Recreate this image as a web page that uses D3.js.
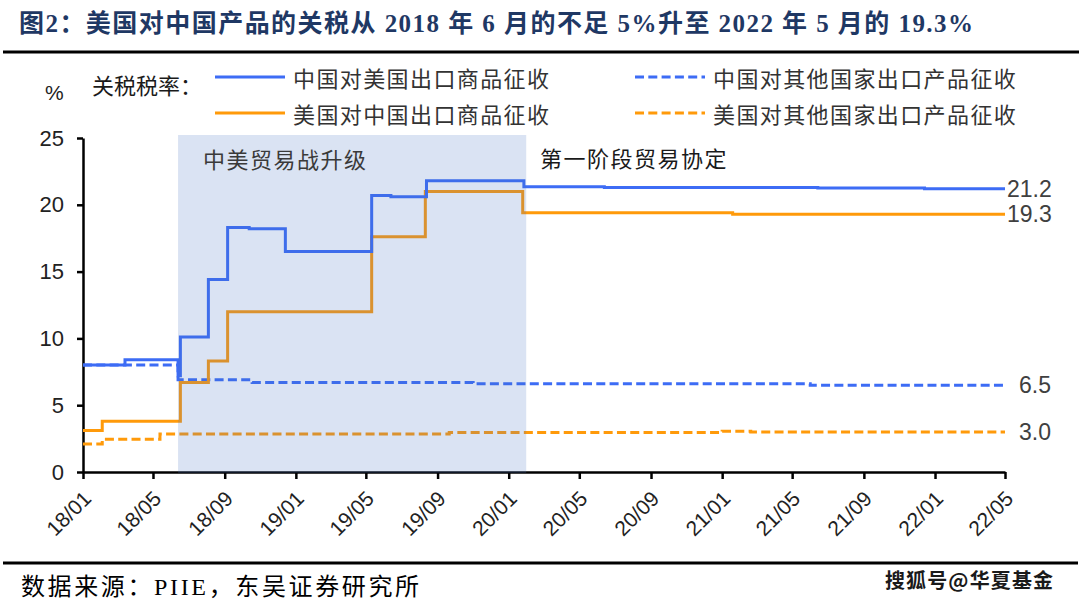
<!DOCTYPE html>
<html><head><meta charset="utf-8">
<script src="https://cdn.jsdelivr.net/npm/d3@7"></script>
<style>
html,body{margin:0;padding:0;background:#fff;}
svg{display:block;}
</style>
</head><body>
<svg id="chart" width="1080" height="606"></svg>
<script>
// ---------------- data ----------------
const titleText = "图2：美国对中国产品的关税从 2018 年 6 月的不足 5%升至 2022 年 5 月的 19.3%";
const sourceText = "数据来源：PIIE，东吴证券研究所";
const watermarkText = "搜狐号@华夏基金";
const legendTitle = "关税税率：";
const seriesNames = ["中国对美国出口商品征收", "美国对中国出口商品征收", "中国对其他国家出口产品征收", "美国对其他国家出口产品征收"];
const yTicks = [0, 5, 10, 15, 20, 25];
const xTickDates = ["2018-01-01","2018-05-01","2018-09-01","2019-01-01","2019-05-01","2019-09-01","2020-01-01","2020-05-01","2020-09-01","2021-01-01","2021-05-01","2021-09-01","2022-01-01","2022-05-01"];
const xTickLabels = ["18/01","18/05","18/09","19/01","19/05","19/09","20/01","20/05","20/09","21/01","21/05","21/09","22/01","22/05"];
const shadePeriod = ["2018-06-13", "2020-01-31"];
const shadeLabel = "中美贸易战升级";
const phaseOneLabel = "第一阶段贸易协定";

// China's tariffs on US exports (step series)
const chinaOnUS = [
  ["2018-01-01", 8.0], ["2018-03-14", 8.4], ["2018-06-13", 7.2], ["2018-06-17", 10.1],
  ["2018-08-04", 14.4], ["2018-09-06", 18.3], ["2018-10-13", 18.2], ["2018-12-14", 16.5],
  ["2019-05-11", 20.7], ["2019-06-13", 20.6], ["2019-08-13", 21.8], ["2020-01-27", 21.35],
  ["2020-06-13", 21.3], ["2021-06-14", 21.25], ["2021-12-14", 21.2], ["2022-05-01", 21.2]
];
// US tariffs on Chinese exports
const usOnChina = [
  ["2018-01-01", 3.1], ["2018-02-03", 3.8], ["2018-06-17", 6.7], ["2018-08-04", 8.3],
  ["2018-09-06", 12.0], ["2019-05-11", 17.6], ["2019-08-11", 21.0], ["2020-01-25", 19.4],
  ["2021-01-19", 19.3], ["2022-05-01", 19.3]
];
// China's tariffs on rest of world
const chinaOnOthers = [
  ["2018-01-01", 8.0], ["2018-06-13", 6.9], ["2018-10-18", 6.7], ["2019-11-01", 6.6],
  ["2021-06-01", 6.5], ["2022-05-01", 6.5]
];
// US tariffs on rest of world
const usOnOthers = [
  ["2018-01-01", 2.1], ["2018-02-03", 2.45], ["2018-05-13", 2.85], ["2019-09-21", 2.95],
  ["2021-01-01", 3.05], ["2021-02-19", 3.0], ["2022-05-01", 3.0]
];
const endLabels = ["21.2", "19.3", "6.5", "3.0"];

// ---------------- drawing ----------------
const svg = d3.select("#chart");
const parse = d3.timeParse("%Y-%m-%d");
const cnFont = "'Noto Sans CJK SC', 'Noto Sans', sans-serif";
const serifFont = "'Liberation Serif', 'Noto Sans CJK SC', serif";
const numFont = "Arial, 'Liberation Sans', sans-serif";

const x = d3.scaleTime().domain([parse(xTickDates[0]), parse(xTickDates[xTickDates.length - 1])]).range([83, 1005]);
const y = d3.scaleLinear().domain([0, 25]).range([472, 138]);

function fitText(sel, targetWidth, baseSize, maxSize) {
  sel.attr("font-size", baseSize);
  const w = sel.node().getComputedTextLength();
  const s = Math.min(maxSize, baseSize * targetWidth / w);
  sel.attr("font-size", s);
  const w2 = sel.node().getComputedTextLength();
  if (Math.abs(w2 - targetWidth) > 2) sel.attr("textLength", targetWidth).attr("lengthAdjust", "spacing");
}

// title
const title = svg.append("text").attr("x", 19).attr("y", 23).attr("dominant-baseline", "central")
  .attr("font-family", serifFont).attr("font-weight", "bold")
  .attr("fill", "#1F3864").text(titleText);
fitText(title, 954, 23, 25);
svg.append("line").attr("x1", 3).attr("x2", 1079).attr("y1", 52).attr("y2", 52)
  .attr("stroke", "#000").attr("stroke-width", 3);

// footer
svg.append("line").attr("x1", 3).attr("x2", 1078).attr("y1", 563).attr("y2", 563)
  .attr("stroke", "#000").attr("stroke-width", 3);
const src = svg.append("text").attr("x", 21).attr("y", 587).attr("dominant-baseline", "central")
  .attr("font-family", serifFont).attr("fill", "#000").text(sourceText);
fitText(src, 398, 22, 24);
svg.append("text").attr("x", 885).attr("y", 579).attr("dominant-baseline", "central")
  .attr("font-family", cnFont).attr("font-weight", "bold").attr("font-size", 20).attr("fill", "#1a1a1a")
  .attr("textLength", 168).attr("lengthAdjust", "spacing").text(watermarkText);

// axes
const yAxis = d3.axisLeft(y).tickValues(yTicks).tickSize(6).tickPadding(13).tickSizeOuter(0);
const gy = svg.append("g").attr("transform", "translate(83,0)").call(yAxis);
gy.select(".domain").attr("stroke", "#000").attr("stroke-width", 2.5);
gy.selectAll(".tick line").attr("stroke", "#000").attr("stroke-width", 2.5);
gy.selectAll(".tick text").attr("font-family", numFont).attr("font-size", 22).attr("fill", "#222");

const xAxis = d3.axisBottom(x).tickValues(xTickDates.map(parse))
  .tickFormat((d, i) => xTickLabels[i]).tickSize(7).tickSizeOuter(0);
const gx = svg.append("g").attr("transform", "translate(0,472)").call(xAxis);
gx.select(".domain").attr("stroke", "#000").attr("stroke-width", 2.5);
gx.selectAll(".tick line").attr("stroke", "#000").attr("stroke-width", 2.5);
gx.selectAll(".tick text").attr("font-family", numFont).attr("font-size", 21).attr("fill", "#222")
  .attr("text-anchor", "end").attr("dy", 0).attr("y", 0)
  .attr("transform", "translate(9,28) rotate(-45)");

svg.append("text").attr("x", 45).attr("y", 92).attr("dominant-baseline", "central")
  .attr("font-family", numFont).attr("font-size", 21).attr("fill", "#222").text("%");

// lines
const line = d3.line().x(d => x(parse(d[0]))).y(d => y(d[1])).curve(d3.curveStepAfter);
const blue = "#3d6cf5", orange = "#ff9a0a";
const series = [
  {data: chinaOnUS, color: blue, dash: null},
  {data: usOnChina, color: orange, dash: null},
  {data: chinaOnOthers, color: blue, dash: "9,4.3"},
  {data: usOnOthers, color: orange, dash: "9,4.3"}
];
series.slice().reverse().forEach(s => {
  svg.append("path").datum(s.data).attr("d", line).attr("fill", "none")
    .attr("stroke", s.color).attr("stroke-width", 3).attr("stroke-dasharray", s.dash);
});

// shaded period (semi-transparent, on top)
svg.append("rect")
  .attr("x", x(parse(shadePeriod[0]))).attr("width", x(parse(shadePeriod[1])) - x(parse(shadePeriod[0])))
  .attr("y", y(25) - 3).attr("height", y(0) - y(25) + 4)
  .attr("fill", "#4472c4").attr("fill-opacity", 0.2);

svg.append("text").attr("x", 203).attr("y", 158).attr("dominant-baseline", "central")
  .attr("font-family", cnFont).attr("font-size", 22).attr("letter-spacing", 1.5).attr("fill", "#3a3a3a").text(shadeLabel);
svg.append("text").attr("x", 540).attr("y", 157).attr("dominant-baseline", "central")
  .attr("font-family", cnFont).attr("font-size", 22).attr("letter-spacing", 1.5).attr("fill", "#1a1a1a").text(phaseOneLabel);

// end labels
series.forEach((s, i) => {
  const last = s.data[s.data.length - 1];
  svg.append("text").attr("x", x(parse(last[0])) + (s.dash ? 14 : 2)).attr("y", y(last[1]))
    .attr("dominant-baseline", "central").attr("font-family", numFont).attr("font-size", 23)
    .attr("fill", "#404040").text(endLabels[i]);
});

// legend
svg.append("text").attr("x", 92).attr("y", 84).attr("dominant-baseline", "central")
  .attr("font-family", cnFont).attr("font-size", 22).attr("fill", "#1a1a1a").text(legendTitle);
const legendPos = [[215, 77], [215, 113], [635, 77], [635, 113]];
series.forEach((s, i) => {
  const [lx, ly] = legendPos[i];
  svg.append("line").attr("x1", lx).attr("x2", lx + 70).attr("y1", ly).attr("y2", ly)
    .attr("stroke", s.color).attr("stroke-width", 3).attr("stroke-dasharray", s.dash);
  svg.append("text").attr("x", lx + 78).attr("y", ly).attr("dominant-baseline", "central")
    .attr("font-family", cnFont).attr("font-size", 22).attr("letter-spacing", 1.4)
    .attr("fill", "#333").text(seriesNames[i]);
});
</script>
</body></html>
